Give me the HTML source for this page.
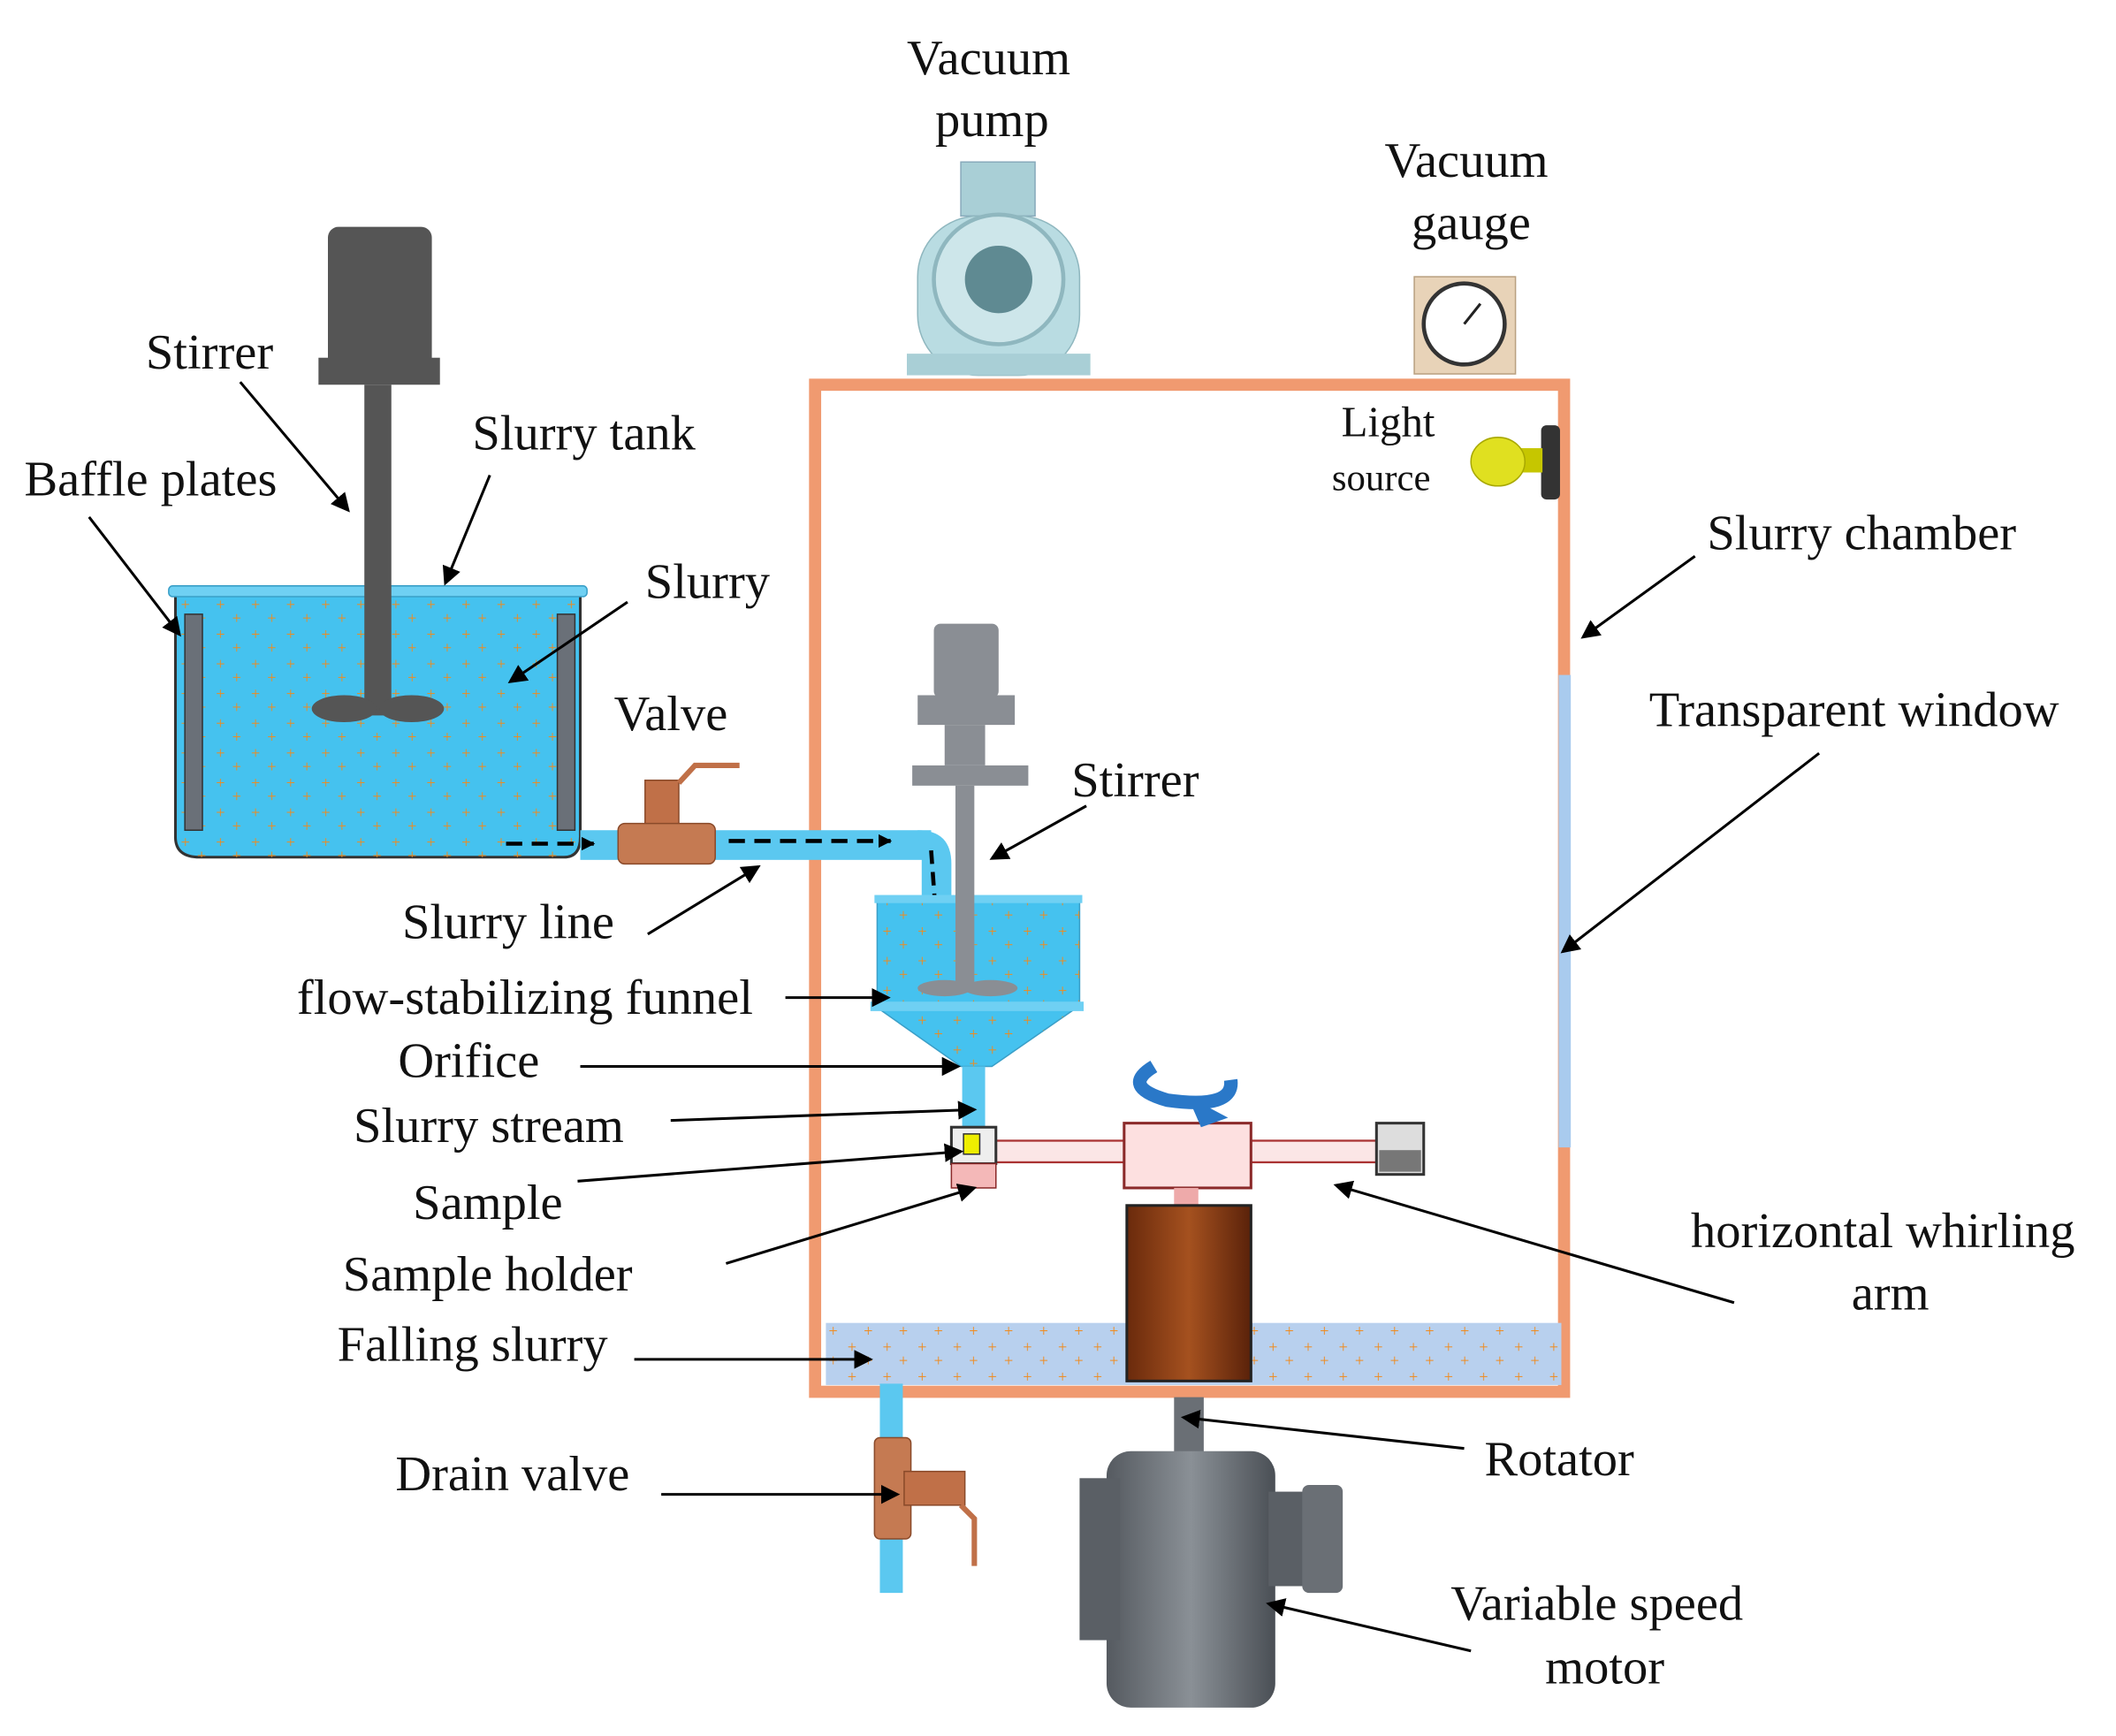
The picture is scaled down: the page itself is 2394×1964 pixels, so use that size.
<!DOCTYPE html>
<html><head><meta charset="utf-8"><style>
html,body{margin:0;padding:0;background:#fff;}
svg{display:block;}
text{font-family:"Liberation Serif",serif;font-size:37px;fill:#111;}
</style></head><body>
<svg width="2394" height="1964" viewBox="0 0 1568 1286" preserveAspectRatio="none" xmlns="http://www.w3.org/2000/svg">
<defs>
<marker id="ah" markerWidth="10" markerHeight="10" refX="9" refY="5" orient="auto" markerUnits="userSpaceOnUse"><path d="M0,0 L10,5 L0,10 z" fill="#000"/></marker>
<marker id="ah2" markerWidth="14" markerHeight="14" refX="12" refY="7" orient="auto" markerUnits="userSpaceOnUse"><path d="M0,0 L14,7 L0,14 z" fill="#000"/></marker>
<pattern id="dots" width="26" height="22" patternUnits="userSpaceOnUse"><text x="4" y="12" style="font-size:12px;fill:#f08a1c">+</text><text x="16" y="22" style="font-size:12px;fill:#f08a1c">+</text></pattern>
<linearGradient id="mot" x1="0" x2="1"><stop offset="0" stop-color="#6a2a0c"/><stop offset="0.5" stop-color="#a5511f"/><stop offset="1" stop-color="#5a220a"/></linearGradient>
<linearGradient id="gm" x1="0" x2="1"><stop offset="0" stop-color="#555a60"/><stop offset="0.5" stop-color="#8a9096"/><stop offset="1" stop-color="#4a4f55"/></linearGradient>
<clipPath id="fc"><path d="M650,665 L800,665 L800,745 L735,790 L712,790 L650,745 Z"/></clipPath>
</defs>

<rect x="604" y="285" width="555" height="746" fill="#fff" stroke="#f09a70" stroke-width="9"/>
<rect x="1155" y="500" width="9" height="350" fill="#a9cbee"/>
<rect x="612" y="980" width="545" height="46" fill="#b8d0ee"/>
<rect x="612" y="980" width="545" height="46" fill="url(#dots)"/>

<rect x="712" y="120" width="55" height="40" fill="#a9cfd6" stroke="#8ab" />
<rect x="680" y="160" width="120" height="118" rx="45" fill="#b9dce2" stroke="#8fb7bf"/>
<circle cx="740" cy="207" r="48" fill="#cde6ea" stroke="#8fb7bf" stroke-width="3"/>
<circle cx="740" cy="207" r="25" fill="#5f8a92"/>
<rect x="672" y="262" width="136" height="16" fill="#a9cfd6"/>

<rect x="1048" y="205" width="75" height="72" fill="#e8d3b8" stroke="#b9a080"/>
<circle cx="1085" cy="240" r="30" fill="#fff" stroke="#333" stroke-width="3"/>
<line x1="1085" y1="240" x2="1097" y2="225" stroke="#222" stroke-width="2"/>

<rect x="1142" y="315" width="14" height="55" rx="4" fill="#333"/>
<rect x="1125" y="332" width="18" height="18" fill="#c6c600"/>
<ellipse cx="1110" cy="342" rx="20" ry="18" fill="#e0e020" stroke="#a8a800"/>

<path d="M130,440 L130,620 Q130,635 148,635 L418,635 Q430,635 430,620 L430,440 Z" fill="#45c2ef" stroke="#333" stroke-width="2"/>
<rect x="130" y="440" width="300" height="195" fill="url(#dots)"/>
<rect x="125" y="434" width="310" height="8" rx="3" fill="#6fd0f3" stroke="#3a9fc8"/>
<rect x="137" y="455" width="13" height="160" fill="#6a7078" stroke="#333"/>
<rect x="413" y="455" width="13" height="160" fill="#6a7078" stroke="#333"/>
<rect x="243" y="168" width="77" height="112" rx="8" fill="#555"/>
<rect x="236" y="265" width="90" height="20" fill="#555"/>
<rect x="270" y="285" width="20" height="245" fill="#555"/>
<ellipse cx="255" cy="525" rx="24" ry="10" fill="#555"/>
<ellipse cx="305" cy="525" rx="24" ry="10" fill="#555"/>

<rect x="430" y="615" width="260" height="22" fill="#5bc8f0"/>
<path d="M680,615 Q705,615 705,640 L705,690 L683,690 L683,637 Z" fill="#5bc8f0"/>
<rect x="478" y="578" width="25" height="40" fill="#c07048" stroke="#8a4a2a"/>
<rect x="458" y="610" width="72" height="30" rx="5" fill="#c57a52" stroke="#8a4a2a"/>
<path d="M503,580 L515,567 L548,567" stroke="#c07048" stroke-width="4" fill="none"/>
<line x1="375" y1="625" x2="440" y2="625" stroke="#000" stroke-width="3" stroke-dasharray="12,7" marker-end="url(#ah)"/>
<path d="M540,623 L660,623" stroke="#000" stroke-width="3" stroke-dasharray="12,7" marker-end="url(#ah)" fill="none"/>
<path d="M690,630 L694,685" stroke="#000" stroke-width="3" stroke-dasharray="10,6" marker-end="url(#ah)"/>

<rect x="650" y="665" width="150" height="80" fill="#45c2ef" stroke="#3a9fc8"/>
<path d="M648,745 L800,745 L735,790 L712,790 Z" fill="#45c2ef" stroke="#3a9fc8"/>
<rect x="650" y="665" width="150" height="125" fill="url(#dots)" clip-path="url(#fc)"/>
<rect x="648" y="663" width="154" height="6" fill="#6fd0f3"/>
<rect x="645" y="742" width="158" height="7" fill="#6fd0f3"/>
<rect x="713" y="790" width="17" height="45" fill="#5bc8f0"/>
<rect x="692" y="462" width="48" height="55" rx="5" fill="#8a8e94"/>
<rect x="680" y="515" width="72" height="22" fill="#8a8e94"/>
<path d="M700,537 L730,537 L730,567 L700,567 Z" fill="#8a8e94"/>
<rect x="676" y="567" width="86" height="15" fill="#8a8e94"/>
<rect x="708" y="582" width="14" height="150" fill="#8a8e94"/>
<ellipse cx="700" cy="732" rx="20" ry="6" fill="#8a8e94"/>
<ellipse cx="734" cy="732" rx="20" ry="6" fill="#8a8e94"/>

<rect x="735" y="845" width="290" height="16" fill="#fbe6e6" stroke="#a33" stroke-width="1.5"/>
<rect x="833" y="832" width="94" height="48" fill="#fde0e0" stroke="#8b2a2a" stroke-width="2"/>
<rect x="705" y="835" width="33" height="27" fill="#eee" stroke="#333" stroke-width="2"/>
<rect x="714" y="840" width="12" height="15" fill="#ee0" stroke="#333"/>
<rect x="705" y="862" width="33" height="18" fill="#f4b8b8" stroke="#8b2a2a"/>
<rect x="1020" y="832" width="35" height="38" fill="#ddd" stroke="#333" stroke-width="2"/>
<rect x="1022" y="852" width="31" height="16" fill="#777"/>
<rect x="870" y="880" width="18" height="14" fill="#eaa"/>
<path d="M855,790 Q830,805 865,815 Q915,822 912,800" stroke="#2a78c8" stroke-width="10" fill="none"/>
<path d="M880,812 L910,828 L890,835 Z" fill="#2a78c8"/>
<rect x="835" y="893" width="92" height="130" fill="url(#mot)" stroke="#222" stroke-width="2"/>
<rect x="870" y="1035" width="22" height="45" fill="#6a6f75"/>
<rect x="820" y="1075" width="125" height="190" rx="18" fill="url(#gm)"/>
<rect x="800" y="1095" width="30" height="120" fill="#5a5f65"/>
<rect x="940" y="1105" width="30" height="70" fill="#5a5f65"/>
<rect x="965" y="1100" width="30" height="80" rx="5" fill="#6a6f75"/>
<rect x="652" y="1025" width="17" height="155" fill="#5bc8f0"/>
<rect x="648" y="1065" width="27" height="75" rx="4" fill="#c57a52" stroke="#8a4a2a"/>
<rect x="670" y="1090" width="45" height="25" fill="#c07048" stroke="#8a4a2a"/>
<path d="M712,1115 L722,1125 L722,1160" stroke="#c07048" stroke-width="4" fill="none"/>

<g>
<text x="672" y="55">Vacuum</text>
<text x="693" y="101">pump</text>
<text x="1026" y="131">Vacuum</text>
<text x="1046" y="177">gauge</text>
<text x="108" y="273">Stirrer</text>
<text x="350" y="333">Slurry tank</text>
<text x="18" y="367">Baffle plates</text>
<text x="478" y="443">Slurry</text>
<text x="455" y="541">Valve</text>
<text x="994" y="323" style="font-size:32px">Light</text>
<text x="987" y="363" style="font-size:28px">source</text>
<text x="1265" y="407">Slurry chamber</text>
<text x="1222" y="538">Transparent window</text>
<text x="794" y="590">Stirrer</text>
<text x="298" y="695">Slurry line</text>
<text x="220" y="751">flow-stabilizing funnel</text>
<text x="295" y="798">Orifice</text>
<text x="262" y="846">Slurry stream</text>
<text x="306" y="903">Sample</text>
<text x="254" y="956">Sample holder</text>
<text x="250" y="1008">Falling slurry</text>
<text x="293" y="1104">Drain valve</text>
<text x="1253" y="924">horizontal whirling</text>
<text x="1372" y="970">arm</text>
<text x="1100" y="1093">Rotator</text>
<text x="1075" y="1200">Variable speed</text>
<text x="1145" y="1247">motor</text>
</g>

<g stroke="#000" stroke-width="2" fill="none" marker-end="url(#ah2)">
<line x1="178" y1="283" x2="258" y2="378"/>
<line x1="363" y1="352" x2="330" y2="432"/>
<line x1="66" y1="383" x2="133" y2="470"/>
<line x1="465" y1="446" x2="378" y2="505"/>
<line x1="1256" y1="412" x2="1173" y2="472"/>
<line x1="1348" y1="558" x2="1158" y2="705"/>
<line x1="805" y1="597" x2="735" y2="636"/>
<line x1="480" y1="692" x2="562" y2="642"/>
<line x1="582" y1="739" x2="658" y2="739"/>
<line x1="430" y1="790" x2="710" y2="790"/>
<line x1="497" y1="830" x2="722" y2="822"/>
<line x1="428" y1="875" x2="712" y2="853"/>
<line x1="538" y1="936" x2="722" y2="880"/>
<line x1="470" y1="1007" x2="645" y2="1007"/>
<line x1="1285" y1="965" x2="990" y2="878"/>
<line x1="1085" y1="1073" x2="877" y2="1050"/>
<line x1="490" y1="1107" x2="665" y2="1107"/>
<line x1="1090" y1="1223" x2="940" y2="1188"/>
</g>
</svg>
</body></html>
